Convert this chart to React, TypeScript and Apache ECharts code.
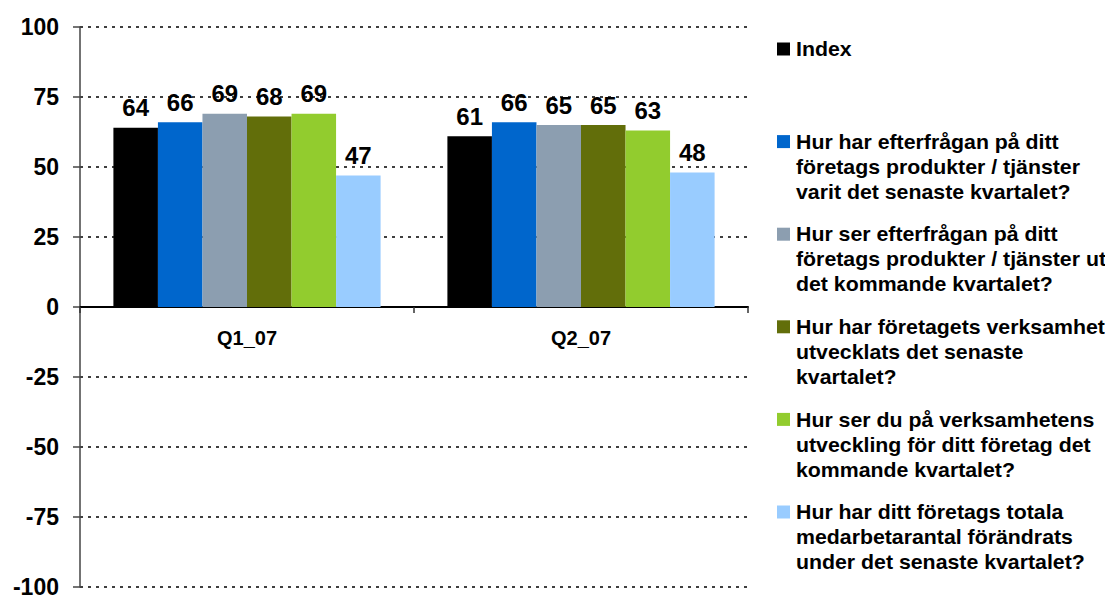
import React, { useEffect, useRef } from "react";
import * as echarts from "echarts";

const categories = ["Q1_07", "Q2_07"];
const seriesNames = [
  "Index",
  "Hur har efterfrågan på ditt\nföretags produkter / tjänster\nvarit det senaste kvartalet?",
  "Hur ser efterfrågan på ditt\nföretags produkter / tjänster ut\ndet kommande kvartalet?",
  "Hur har företagets verksamhet\nutvecklats det senaste\nkvartalet?",
  "Hur ser du på verksamhetens\nutveckling för ditt företag det\nkommande kvartalet?",
  "Hur har ditt företags totala\nmedarbetarantal förändrats\nunder det senaste kvartalet?",
];
const indexValues = [64, 61];
const demandPastValues = [66, 66];
const demandNextValues = [69, 65];
const businessPastValues = [68, 65];
const businessNextValues = [69, 63];
const employeesValues = [47, 48];
const seriesValues = [
  indexValues,
  demandPastValues,
  demandNextValues,
  businessPastValues,
  businessNextValues,
  employeesValues,
];
const colors = ["#000000", "#0066CC", "#8C9EB0", "#626E0A", "#92CC2E", "#99CCFF"];
const yTicks = { min: -100, max: 100, interval: 25 };

const FONT = "Liberation Sans, Arial, sans-serif";

export default function App() {
  const ref = useRef<HTMLDivElement>(null);
  useEffect(() => {
    if (!ref.current) return;
    const chart = echarts.init(ref.current, null, { renderer: "svg" });
    const legendGraphics: any[] = [];
    seriesNames.forEach((name, i) => {
      const cy = 49 + i * 92.6;
      legendGraphics.push({
        type: "rect",
        shape: { x: 777, y: cy - 6.5, width: 13, height: 13 },
        style: { fill: colors[i] },
      });
      legendGraphics.push({
        type: "text",
        x: 796,
        y: cy - 12.5,
        scaleX: 1.065,
        style: {
          text: name,
          font: `bold 20px ${FONT}`,
          lineHeight: 25,
          fill: "#000",
          verticalAlign: "top",
          align: "left",
        },
      });
    });
    chart.setOption({
      animation: false,
      grid: {
        left: 80,
        right: 357,
        top: 27,
        bottom: 9,
        containLabel: false,
        outerBoundsMode: "none",
      },
      xAxis: [
        {
          type: "category",
          data: categories,
          axisLine: { onZero: true, lineStyle: { color: "#000", width: 2 } },
          axisTick: { show: true, length: 6, lineStyle: { color: "#333", width: 1.5 } },
          axisLabel: { show: false },
          splitLine: { show: false },
        },
        {
          type: "category",
          data: categories,
          position: "bottom",
          offset: -280,
          axisLine: { show: false, onZero: false },
          axisTick: { show: false },
          axisLabel: {
            margin: 21,
            color: "#000",
            fontFamily: FONT,
            fontWeight: "bold",
            fontSize: 20,
          },
          splitLine: { show: false },
        },
      ],
      yAxis: {
        type: "value",
        min: yTicks.min,
        max: yTicks.max,
        interval: yTicks.interval,
        axisLine: { show: true, lineStyle: { color: "#444", width: 1.5 } },
        axisTick: { show: true, length: 7, lineStyle: { color: "#444", width: 1.5 } },
        axisLabel: {
          margin: 21,
          color: "#000",
          fontFamily: FONT,
          fontWeight: "bold",
          fontSize: 23,
          lineHeight: 17,
        },
        splitLine: {
          show: true,
          lineStyle: { color: "#000", type: [3, 5], width: 1.5 },
        },
      },
      series: seriesNames.map((name, i) => ({
        name,
        type: "bar",
        xAxisIndex: 0,
        data: seriesValues[i],
        barGap: "0%",
        barCategoryGap: "20%",
        itemStyle: { color: colors[i] },
        label: {
          show: true,
          position: "top",
          distance: 8,
          color: "#000",
          fontFamily: FONT,
          fontWeight: "bold",
          fontSize: 24,
        },
      })),
      graphic: legendGraphics,
    });
    return () => chart.dispose();
  }, []);
  return (
    <div
      ref={ref}
      style={{ position: "fixed", left: 0, top: 0, width: 1105, height: 596, background: "#fff" }}
    />
  );
}
